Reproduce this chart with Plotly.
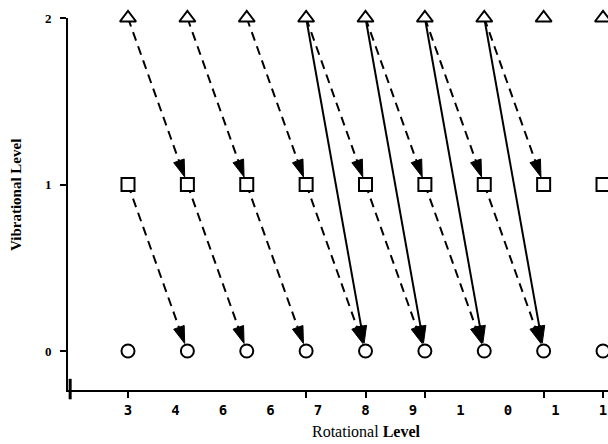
import plotly.graph_objects as go

# ---- data ----
rot_levels = [0, 1, 2, 3, 4, 5, 6, 7, 8]          # marker positions (rotational level index)
vib_levels = [0, 1, 2]
x_tick_text = ["3", "4", "6", "6", "7", "8", "9", "1", "0", "1", "1"]
x_tick_pos = [0.0, 0.8, 1.6, 2.4, 3.2, 4.0, 4.8, 5.6, 6.4, 7.2, 8.0]
x_tick_marks = [0, 3, 4, 5, 7, 8]
# dashed transitions: (from J, from v, to J, to v)
dashed_from_J = [0, 1, 2, 3, 4, 5, 6, 0, 1, 2, 3, 4, 5, 6]
dashed_from_v = [2, 2, 2, 2, 2, 2, 2, 1, 1, 1, 1, 1, 1, 1]
dashed_to_J   = [1, 2, 3, 4, 5, 6, 7, 1, 2, 3, 4, 5, 6, 7]
dashed_to_v   = [1, 1, 1, 1, 1, 1, 1, 0, 0, 0, 0, 0, 0, 0]
# solid transitions
solid_from_J = [3, 4, 5, 6]
solid_from_v = [2, 2, 2, 2]
solid_to_J   = [4, 5, 6, 7]
solid_to_v   = [0, 0, 0, 0]

fig = go.Figure()

def add_arrows(fj, fv, tj, tv, dash):
    xs, ys, sizes = [], [], []
    for a, b, c, d in zip(fj, fv, tj, tv):
        xs += [a, c, None]
        ys += [b, d, None]
        sizes += [0, 18, 0]
    fig.add_trace(go.Scatter(
        x=xs, y=ys, mode="lines+markers",
        line=dict(color="black", width=2, dash=dash),
        marker=dict(symbol="arrow", size=sizes, color="black", opacity=1,
                    angleref="previous", standoff=8,
                    line=dict(width=1, color="black")),
        hoverinfo="skip", showlegend=False, cliponaxis=False,
    ))

add_arrows(dashed_from_J, dashed_from_v, dashed_to_J, dashed_to_v, "9px,6px")
add_arrows(solid_from_J, solid_from_v, solid_to_J, solid_to_v, "solid")

symbols = {0: "circle", 1: "square", 2: "triangle-up"}
for v in vib_levels:
    fig.add_trace(go.Scatter(
        x=rot_levels, y=[v] * len(rot_levels), mode="markers",
        marker=dict(symbol=symbols[v], size=13 if v != 2 else 14, color="white",
                    line=dict(color="black", width=2)),
        hoverinfo="skip", showlegend=False, cliponaxis=False,
    ))

fig.update_layout(
    width=608, height=444,
    margin=dict(l=68, r=0, t=18, b=54),
    paper_bgcolor="white", plot_bgcolor="white",
    showlegend=False,
    xaxis=dict(
        range=[-1.0105, 8.084], showgrid=False, zeroline=False,
        showline=True, linecolor="black", linewidth=2,
        tickvals=x_tick_marks, ticks="outside", ticklen=6, tickwidth=2,
        tickcolor="black", showticklabels=False,
    ),
    xaxis2=dict(
        range=[-1.0105, 8.084], overlaying="x", anchor="y", side="bottom",
        showgrid=False, zeroline=False, showline=False,
        tickvals=x_tick_pos, ticktext=x_tick_text, ticks="",
        ticklabelstandoff=10,
        tickfont=dict(family="DejaVu Sans Mono", size=14, color="black", weight="bold"),
    ),
    yaxis=dict(
        range=[-0.2342, 2.0], showgrid=False, zeroline=False,
        showline=True, linecolor="black", linewidth=2,
        tickvals=vib_levels, ticktext=[str(v) for v in vib_levels],
        ticks="outside", ticklen=6, tickwidth=1.5, tickcolor="black",
        ticklabelstandoff=6,
        tickfont=dict(family="Liberation Serif", size=13, color="black", weight="bold"),
    ),
    shapes=[dict(type="line", xref="paper", yref="paper",
                 x0=0.004, x1=0.004, y0=-0.025, y1=0.03,
                 line=dict(color="black", width=3))],
    annotations=[
        dict(text="Vibrational Level", xref="paper", yref="paper",
             x=(16 - 68) / 540, y=(390 - 195) / 372, textangle=-90,
             showarrow=False, xanchor="center", yanchor="middle",
             font=dict(family="Liberation Serif", size=15, color="black", weight="bold")),
        dict(text="Rotational <b>Level</b>", xref="paper", yref="paper",
             x=(366 - 68) / 540, y=-(432 - 390) / 372,
             showarrow=False, xanchor="center", yanchor="middle",
             font=dict(family="Liberation Serif", size=16, color="black")),
    ],
)
# dummy trace to activate xaxis2
fig.add_trace(go.Scatter(x=[None], y=[None], xaxis="x2", showlegend=False, hoverinfo="skip"))

fig.write_html("out.html")
